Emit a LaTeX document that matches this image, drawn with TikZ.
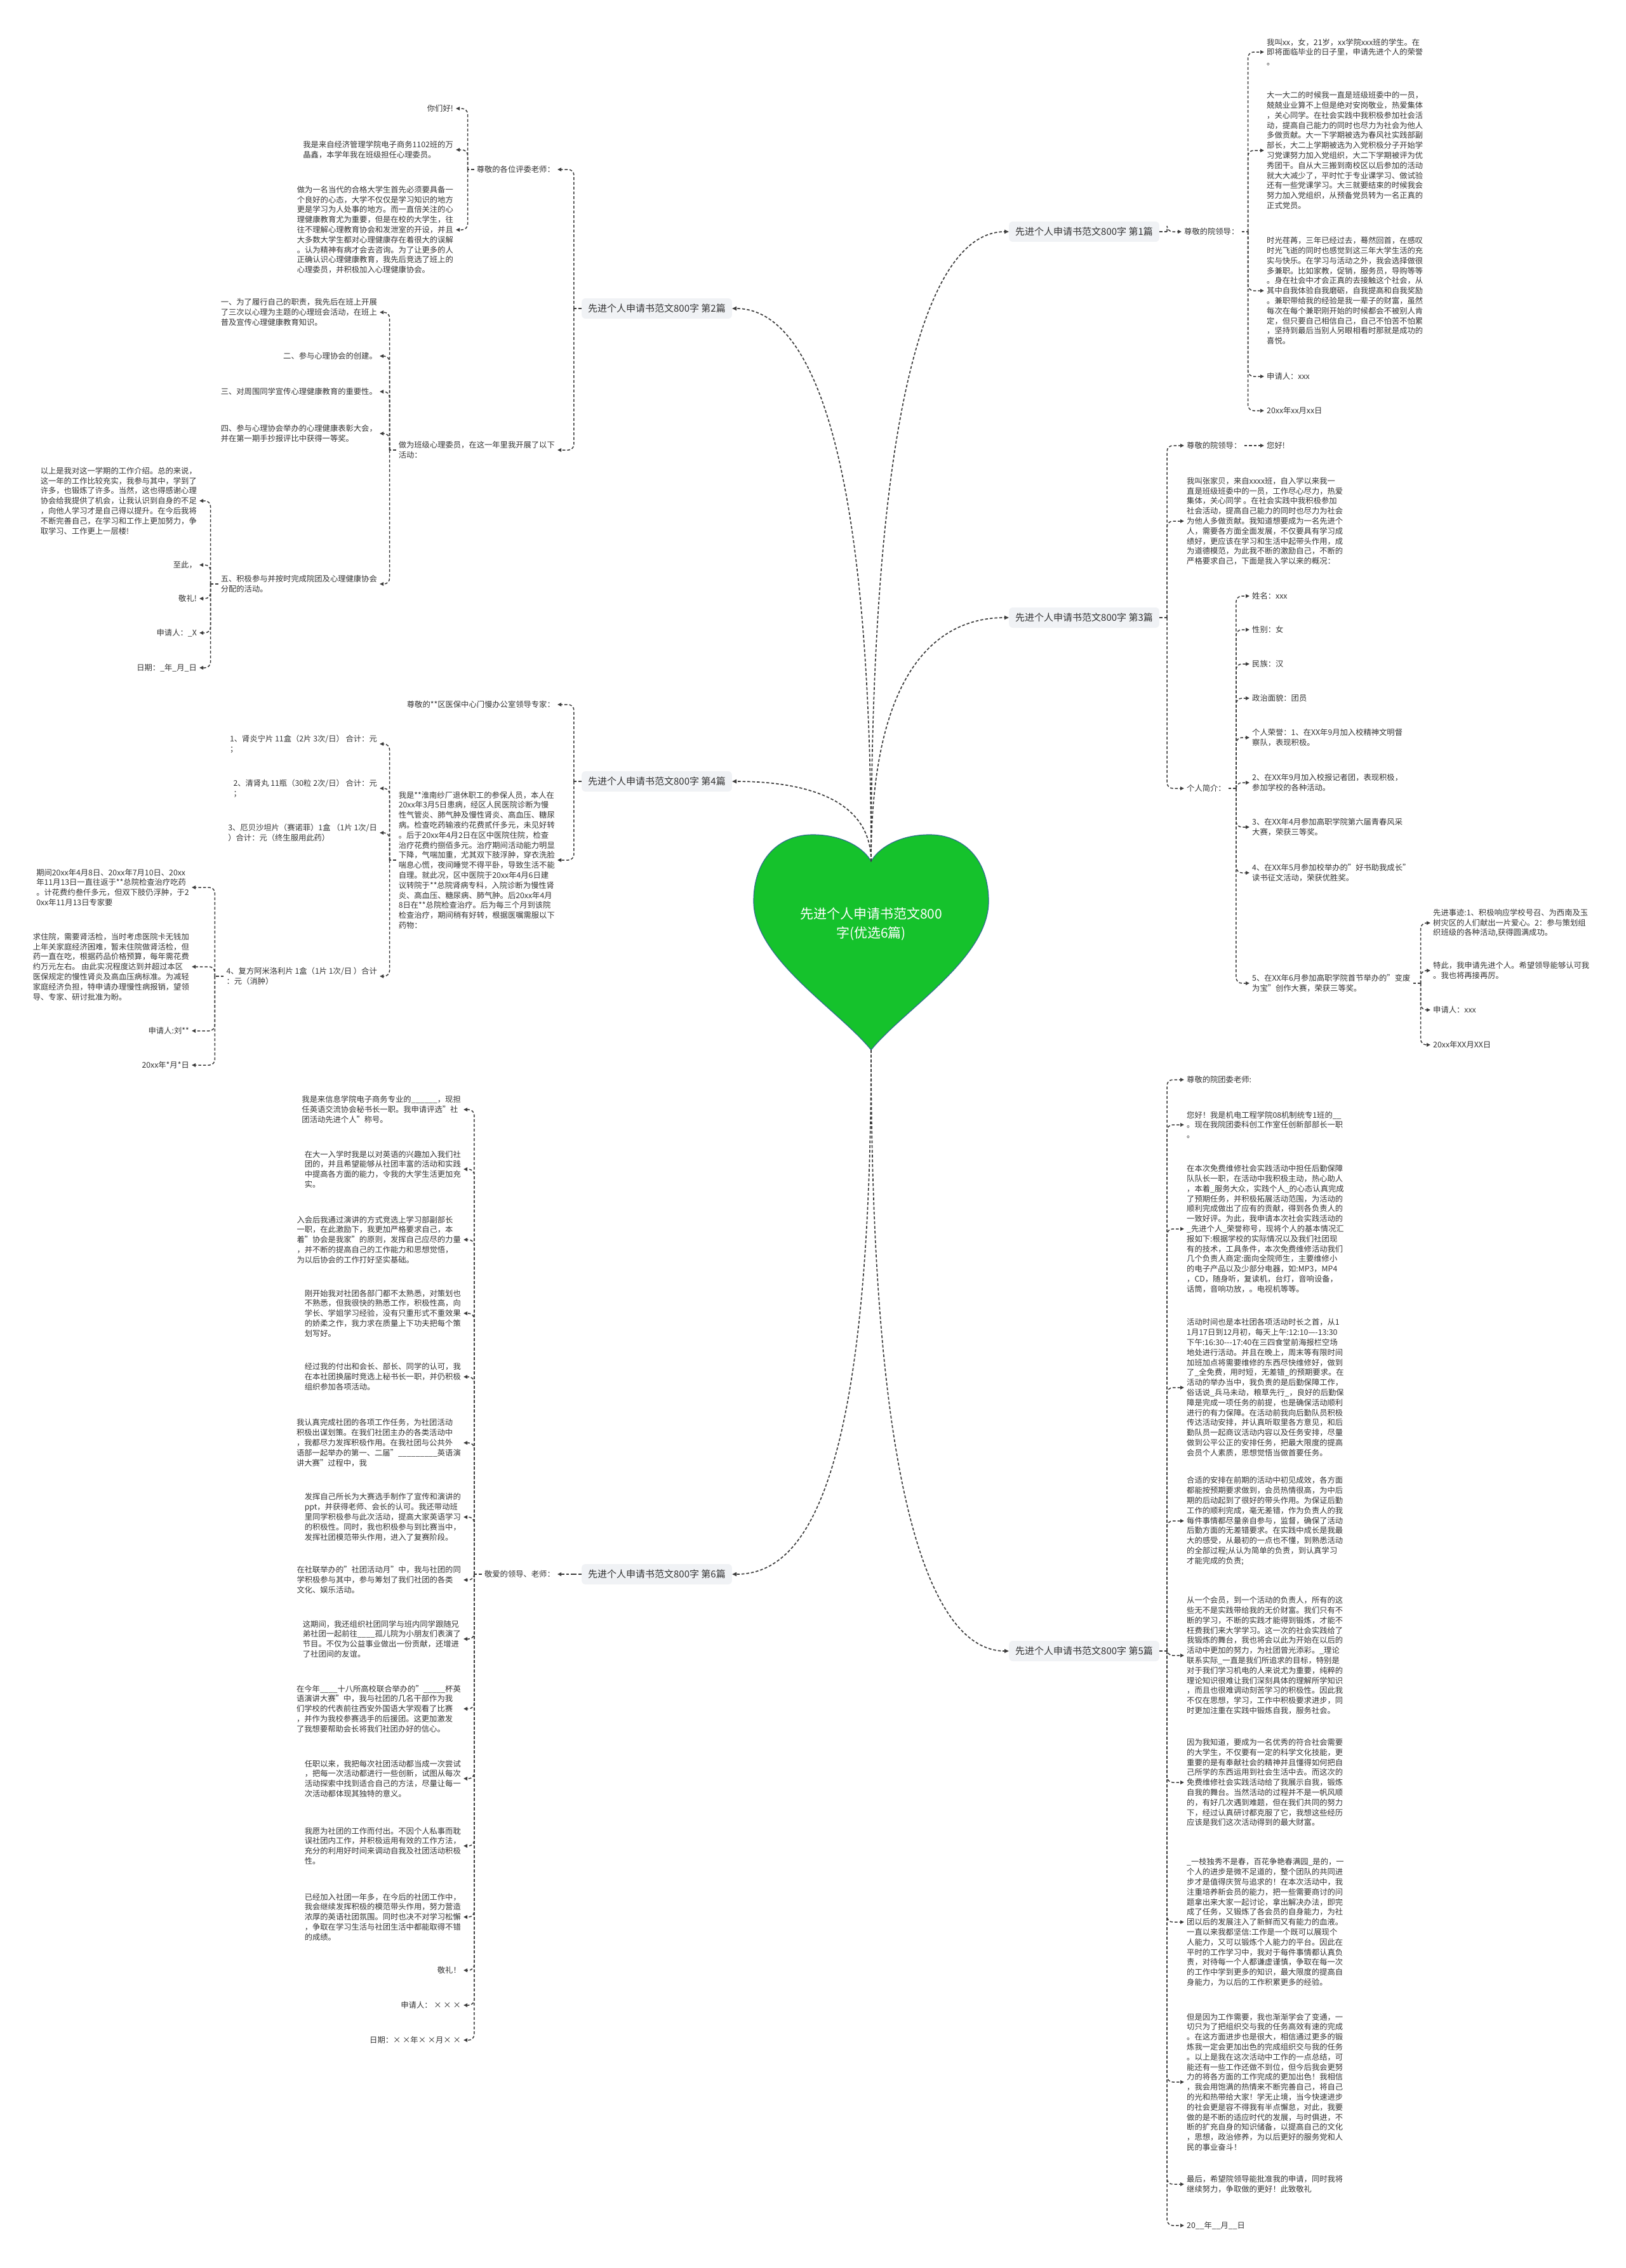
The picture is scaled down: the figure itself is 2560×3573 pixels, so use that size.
\documentclass[tikz,border=0pt]{standalone}
\usepackage{fontspec}
\setmainfont{Noto Sans CJK SC}
\usetikzlibrary{calc,arrows.meta}
\definecolor{ink}{HTML}{333333}
\definecolor{lnk}{HTML}{3C3C3C}
\definecolor{heartg}{HTML}{15C22C}
\definecolor{heartb}{HTML}{2E6E8E}
\definecolor{boxg}{HTML}{F0F2F5}
\begin{document}
\begin{tikzpicture}[x=1pt,y=-1pt,
  txt/.style={font=\fontsize{12.3pt}{15.8pt}\selectfont, text=ink, align=left, inner xsep=4pt, inner ysep=1pt},
  rt/.style={txt, anchor=west},
  lt/.style={txt, anchor=east},
  branch/.style={font=\fontsize{15pt}{18pt}\selectfont, text=ink, fill=boxg, rounded corners=6pt, inner xsep=10pt, inner ysep=9pt},
  lk/.style={draw=lnk, line width=1.5pt, dash pattern=on 4.5pt off 3pt},
  edge/.style={lk, rounded corners=9pt, -{Triangle[length=6pt,width=5.5pt]}},
  redge/.style={lk, line width=1.7pt, -{Triangle[length=7pt,width=6pt]}}]
\path[use as bounding box, fill=white] (0,0) rectangle (2560,3573);

% ---------- heart ----------
\path[fill=heartg, draw=heartb, line width=1.2pt] (1372,1654) .. controls (1320,1590) and (1187,1510) .. (1187,1420) .. controls (1187,1352) and (1228,1315) .. (1280,1315) .. controls (1330,1315) and (1362,1338) .. (1372,1357) .. controls (1382,1338) and (1414,1315) .. (1464,1315) .. controls (1516,1315) and (1557,1352) .. (1557,1420) .. controls (1557,1510) and (1424,1590) .. (1372,1654) -- cycle;
\node[font=\fontsize{21pt}{30pt}\selectfont, text=white, align=center] (title) at (1372,1456) {先进个人申请书范文800\\字(优选6篇)};
\coordinate (hn) at (1372,1357);
\coordinate (ht) at (1372,1654);

% ---------- branches ----------
\node[branch, anchor=west] (B1) at (1589,365) {先进个人申请书范文800字 第1篇};
\node[branch, anchor=west] (B3) at (1589,973) {先进个人申请书范文800字 第3篇};
\node[branch, anchor=west] (B5) at (1589,2601) {先进个人申请书范文800字 第5篇};
\node[branch, anchor=east] (B2) at (1153,486) {先进个人申请书范文800字 第2篇};
\node[branch, anchor=east] (B4) at (1153,1231) {先进个人申请书范文800字 第4篇};
\node[branch, anchor=east] (B6) at (1153,2480) {先进个人申请书范文800字 第6篇};

\foreach \b in {B1,B3} \draw[redge] (hn) .. controls ($(hn)!0.8!(hn|-\b.west)$) and ($(\b.west)!0.5!(hn|-\b.west)$) .. (\b.west);
\foreach \b in {B2,B4} \draw[redge] (hn) .. controls ($(hn)!0.8!(hn|-\b.east)$) and ($(\b.east)!0.5!(hn|-\b.east)$) .. (\b.east);
\draw[redge] (ht) .. controls ($(ht)!0.8!(ht|-B5.west)$) and ($(B5.west)!0.5!(ht|-B5.west)$) .. (B5.west);
\draw[redge] (ht) .. controls ($(ht)!0.85!(ht|-B6.east)$) and ($(B6.east)!0.5!(ht|-B6.east)$) .. (B6.east);

% ---------- branch 1 ----------
\coordinate (B1t) at ($(B1.east)+(12,0)$);
\node[rt] (n1a) at (1861,365) {尊敬的院领导：};
\coordinate (n1at) at ($(n1a.east)+(10,0)$);
\node[rt] (n1b) at (1991,82) {我叫xx，女，21岁，xx学院xxx班的学生。在\\即将面临毕业的日子里，申请先进个人的荣誉\\。};
\node[rt] (n1c) at (1991,237) {大一大二的时候我一直是班级班委中的一员，\\兢兢业业算不上但是绝对安岗敬业，热爱集体\\，关心同学。在社会实践中我积极参加社会活\\动，提高自己能力的同时也尽力为社会为他人\\多做贡献。大一下学期被选为春风社实践部副\\部长，大二上学期被选为入党积极分子开始学\\习党课努力加入党组织，大二下学期被评为优\\秀团干。自从大三搬到南校区以后参加的活动\\就大大减少了，平时忙于专业课学习、做试验\\还有一些党课学习。大三就要结束的时候我会\\努力加入党组织，从预备党员转为一名正真的\\正式党员。};
\node[rt] (n1d) at (1991,458) {时光荏苒，三年已经过去，蓦然回首，在感叹\\时光飞逝的同时也感觉到这三年大学生活的充\\实与快乐。在学习与活动之外，我会选择做很\\多兼职。比如家教，促销，服务员，导购等等\\。身在社会中才会正真的去接触这个社会，从\\其中自我体验自我磨砺，自我提高和自我奖励\\。兼职带给我的经验是我一辈子的财富，虽然\\每次在每个兼职刚开始的时候都会不被别人肯\\定，但只要自己相信自己，自己不怕苦不怕累\\，坚持到最后当别人另眼相看时那就是成功的\\喜悦。};
\node[rt] (n1e) at (1991,593) {申请人：xxx};
\node[rt] (n1f) at (1991,647) {20xx年xx月xx日};
\draw[lk] (B1.east) -- (B1t);
\draw[edge] (B1t) |- (n1a.west);
\draw[lk] (n1a.east) -- (n1at);
\foreach \c in {n1b,n1c,n1d,n1e,n1f} \draw[edge] (n1at) |- (\c.west);

% ---------- branch 3 ----------
\coordinate (B3t) at ($(B3.east)+(12,0)$);
\node[rt] (n3a) at (1865,702) {尊敬的院领导：};
\node[rt] (n3a1) at (1991,702) {您好!};
\node[rt] (n3b) at (1865,821) {我叫张家贝，来自xxxx班，自入学以来我一\\直是班级班委中的一员，工作尽心尽力，热爱\\集体，关心同学 。在社会实践中我积极参加\\社会活动，提高自己能力的同时也尽力为社会\\为他人多做贡献。我知道想要成为一名先进个\\人，需要各方面全面发展，不仅要具有学习成\\绩好，更应该在学习和生活中起带头作用，成\\为道德模范，为此我不断的激励自己，不断的\\严格要求自己，下面是我入学以来的概况：};
\node[rt] (n3c) at (1865,1242) {个人简介：};
\coordinate (n3ct) at ($(n3c.east)+(12,0)$);
\node[rt] (n3c1) at (1968,939) {姓名：xxx};
\node[rt] (n3c2) at (1968,992) {性别：女};
\node[rt] (n3c3) at (1968,1046) {民族：汉};
\node[rt] (n3c4) at (1968,1100) {政治面貌：团员};
\node[rt] (n3c5) at (1968,1162) {个人荣誉：1、在XX年9月加入校精神文明督\\察队，表现积极。};
\node[rt] (n3c6) at (1968,1233) {2、在XX年9月加入校报记者团，表现积极，\\参加学校的各种活动。};
\node[rt] (n3c7) at (1968,1303) {3、在XX年4月参加高职学院第六届青春风采\\大赛，荣获三等奖。};
\node[rt] (n3c8) at (1968,1375) {4、在XX年5月参加校举办的"好书助我成长"\\读书征文活动，荣获优胜奖。};
\node[rt] (n3c9) at (1968,1549) {5、在XX年6月参加高职学院首节举办的"变废\\为宝"创作大赛，荣获三等奖。};
\coordinate (n3c9t) at ($(n3c9.east)+(12,0)$);
\node[rt] (n3c9a) at (2253,1454) {先进事迹:1、积极响应学校号召、为西南及玉\\树灾区的人们献出一片爱心。2：参与策划组\\织班级的各种活动,获得圆满成功。};
\node[rt] (n3c9b) at (2253,1529) {特此，我申请先进个人。希望领导能够认可我\\。我也将再接再厉。};
\node[rt] (n3c9c) at (2253,1591) {申请人：xxx};
\node[rt] (n3c9d) at (2253,1646) {20xx年XX月XX日};
\draw[lk] (B3.east) -- (B3t);
\foreach \c in {n3a,n3b,n3c} \draw[edge] (B3t) |- (\c.west);
\draw[edge] (n3a.east) -- (n3a1.west);
\draw[lk] (n3c.east) -- (n3ct);
\foreach \c in {n3c1,n3c2,n3c3,n3c4,n3c5,n3c6,n3c7,n3c8,n3c9} \draw[edge] (n3ct) |- (\c.west);
\draw[lk] (n3c9.east) -- (n3c9t);
\foreach \c in {n3c9a,n3c9b,n3c9c,n3c9d} \draw[edge] (n3c9t) |- (\c.west);

% ---------- branch 5 ----------
\coordinate (B5t) at ($(B5.east)+(12,0)$);
\node[rt] (n5a) at (1865,1701) {尊敬的院团委老师:};
\node[rt] (n5b) at (1865,1772) {您好！我是机电工程学院08机制统专1班的\_\_\\。现在我院团委科创工作室任创新部部长一职\\。};
\node[rt] (n5c) at (1865,1936) {在本次免费维修社会实践活动中担任后勤保障\\队队长一职，在活动中我积极主动，热心助人\\，本着\_服务大众，实践个人\_的心态认真完成\\了预期任务，并积极拓展活动范围，为活动的\\顺利完成做出了应有的贡献，得到各负责人的\\一致好评。为此，我申请本次社会实践活动的\\\_先进个人\_荣誉称号，现将个人的基本情况汇\\报如下:根据学校的实际情况以及我们社团现\\有的技术，工具条件，本次免费维修活动我们\\几个负责人商定:面向全院师生，主要维修小\\的电子产品以及少部分电器，如:MP3，MP4\\，CD，随身听，复读机，台灯，音响设备，\\话筒，音响功放，。电视机等等。};
\node[rt] (n5d) at (1865,2186) {活动时间也是本社团各项活动时长之首，从1\\1月17日到12月初，每天上午:12:10—-13:30\\下午:16:30-{}-{}-17:40在三四食堂前海报栏空场\\地处进行活动。并且在晚上，周末等有限时间\\加班加点将需要维修的东西尽快维修好，做到\\了\_全免费，用时短，无差错\_的预期要求。在\\活动的举办当中，我负责的是后勤保障工作，\\俗话说\_兵马未动，粮草先行\_，良好的后勤保\\障是完成一项任务的前提，也是确保活动顺利\\进行的有力保障。在活动前我向后勤队员积极\\传达活动安排，并认真听取里各方意见，和后\\勤队员一起商议活动内容以及任务安排，尽量\\做到公平公正的安排任务，把最大限度的提高\\会员个人素质，思想觉悟当做首要任务。};
\node[rt] (n5e) at (1865,2396) {合适的安排在前期的活动中初见成效，各方面\\都能按预期要求做到，会员热情很高，为中后\\期的后动起到了很好的带头作用。为保证后勤\\工作的顺利完成，毫无差错，作为负责人的我\\每件事情都尽量亲自参与，监督，确保了活动\\后勤方面的无差错要求。在实践中成长是我最\\大的感受，从最初的一点也不懂，到熟悉活动\\的全部过程;从认为简单的负责，到认真学习\\才能完成的负责;};
\node[rt] (n5f) at (1865,2608) {从一个会员，到一个活动的负责人，所有的这\\些无不是实践带给我的无价财富。我们只有不\\断的学习，不断的实践才能得到锻炼，才能不\\枉费我们来大学学习。这一次的社会实践给了\\我锻炼的舞台，我也将会以此为开始在以后的\\活动中更加的努力，为社团曾光添彩。\_理论\\联系实际\_一直是我们所追求的目标，特别是\\对于我们学习机电的人来说尤为重要，纯粹的\\理论知识很难让我们深刻具体的理解所学知识\\，而且也很难调动刻苦学习的积极性。因此我\\不仅在思想，学习，工作中积极要求进步，同\\时更加注重在实践中锻炼自我，服务社会。};
\node[rt] (n5g) at (1865,2808) {因为我知道，要成为一名优秀的符合社会需要\\的大学生，不仅要有一定的科学文化技能，更\\重要的是有奉献社会的精神并且懂得如何把自\\己所学的东西运用到社会生活中去。而这次的\\免费维修社会实践活动给了我展示自我，锻炼\\自我的舞台。当然活动的过程并不是一帆风顺\\的，有好几次遇到难题，但在我们共同的努力\\下，经过认真研讨都克服了它，我想这些经历\\应该是我们这次活动得到的最大财富。};
\node[rt] (n5h) at (1865,3028) {\_一枝独秀不是春，百花争艳春满园\_是的，一\\个人的进步是微不足道的，整个团队的共同进\\步才是值得庆贺与追求的！在本次活动中，我\\注重培养新会员的能力，把一些需要商讨的问\\题拿出来大家一起讨论，拿出解决办法，即完\\成了任务，又锻炼了各会员的自身能力，为社\\团以后的发展注入了新鲜而又有能力的血液。\\一直以来我都坚信:工作是一个既可以展现个\\人能力，又可以锻炼个人能力的平台。因此在\\平时的工作学习中，我对于每件事情都认真负\\责，对待每一个人都谦虚谨慎，争取在每一次\\的工作中学到更多的知识，最大限度的提高自\\身能力，为以后的工作积累更多的经验。};
\node[rt] (n5i) at (1865,3280) {但是因为工作需要，我也渐渐学会了变通，一\\切只为了把组织交与我的任务高效有速的完成\\。在这方面进步也是很大，相信通过更多的锻\\炼我一定会更加出色的完成组织交与我的任务\\。以上是我在这次活动中工作的一点总结，可\\能还有一些工作还做不到位，但今后我会更努\\力的将各方面的工作完成的更加出色！我相信\\，我会用饱满的热情来不断完善自己，将自己\\的光和热带给大家！学无止境，当今快速进步\\的社会更是容不得我有半点懈怠，对此，我要\\做的是不断的适应时代的发展，与时俱进，不\\断的扩充自身的知识储备，以提高自己的文化\\，思想，政治修养，为以后更好的服务党和人\\民的事业奋斗！};
\node[rt] (n5j) at (1865,3441) {最后，希望院领导能批准我的申请，同时我将\\继续努力，争取做的更好！此致敬礼};
\node[rt] (n5k) at (1865,3506) {20\_\_年\_\_月\_\_日};
\draw[lk] (B5.east) -- (B5t);
\foreach \c in {n5a,n5b,n5c,n5d,n5e,n5f,n5g,n5h,n5i,n5j,n5k} \draw[edge] (B5t) |- (\c.west);

% ---------- branch 2 ----------
\coordinate (B2t) at ($(B2.west)+(-12,0)$);
\node[lt] (n2a) at (878,267) {尊敬的各位评委老师：};
\coordinate (n2at) at ($(n2a.west)+(-10,0)$);
\node[lt] (n2a1) at (718,171) {你们好!};
\node[lt] (n2a2) at (718,236) {我是来自经济管理学院电子商务1102班的万\\晶鑫，本学年我在班级担任心理委员。};
\node[lt] (n2a3) at (718,362) {做为一名当代的合格大学生首先必须要具备一\\个良好的心态，大学不仅仅是学习知识的地方\\更是学习为人处事的地方。而一直倍关注的心\\理健康教育尤为重要，但是在校的大学生，往\\往不理解心理教育协会和发泄室的开设，并且\\大多数大学生都对心理健康存在着很大的误解\\。认为精神有病才会去咨询。为了让更多的人\\正确认识心理健康教育，我先后竞选了班上的\\心理委员，并积极加入心理健康协会。};
\node[lt] (n2b) at (878,709) {做为班级心理委员，在这一年里我开展了以下\\活动：};
\coordinate (n2bt) at ($(n2b.west)+(-10,0)$);
\node[lt] (n2b1) at (598,492) {一、为了履行自己的职责，我先后在班上开展\\了三次以心理为主题的心理班会活动，在班上\\普及宣传心理健康教育知识。};
\node[lt] (n2b2) at (598,561) {二、参与心理协会的创建。};
\node[lt] (n2b3) at (598,617) {三、对周围同学宣传心理健康教育的重要性。};
\node[lt] (n2b4) at (598,683) {四、参与心理协会举办的心理健康表彰大会，\\并在第一期手抄报评比中获得一等奖。};
\node[lt] (n2b5) at (598,920) {五、积极参与并按时完成院团及心理健康协会\\分配的活动。};
\coordinate (n2b5t) at ($(n2b5.west)+(-12,0)$);
\node[lt] (n2b5a) at (314,789) {以上是我对这一学期的工作介绍。总的来说，\\这一年的工作比较充实，我参与其中，学到了\\许多，也锻炼了许多。当然，这也得感谢心理\\协会给我提供了机会，让我认识到自身的不足\\，向他人学习才是自己得以提升。在今后我将\\不断完善自己，在学习和工作上更加努力，争\\取学习、工作更上一层楼!};
\node[lt] (n2b5b) at (314,890) {至此，};
\node[lt] (n2b5c) at (314,943) {敬礼!};
\node[lt] (n2b5d) at (314,997) {申请人：\_X};
\node[lt] (n2b5e) at (314,1052) {日期：\_年\_月\_日};
\draw[lk] (B2.west) -- (B2t);
\foreach \c in {n2a,n2b} \draw[edge] (B2t) |- (\c.east);
\draw[lk] (n2a.west) -- (n2at);
\foreach \c in {n2a1,n2a2,n2a3} \draw[edge] (n2at) |- (\c.east);
\draw[lk] (n2b.west) -- (n2bt);
\foreach \c in {n2b1,n2b2,n2b3,n2b4,n2b5} \draw[edge] (n2bt) |- (\c.east);
\draw[lk] (n2b5.west) -- (n2b5t);
\foreach \c in {n2b5a,n2b5b,n2b5c,n2b5d,n2b5e} \draw[edge] (n2b5t) |- (\c.east);

% ---------- branch 4 ----------
\coordinate (B4t) at ($(B4.west)+(-12,0)$);
\node[lt] (n4a) at (878,1110) {尊敬的**区医保中心门慢办公室领导专家：};
\node[lt] (n4b) at (878,1355) {我是**淮南纱厂退休职工的参保人员，本人在\\20xx年3月5日患病，经区人民医院诊断为慢\\性气管炎、肺气肿及慢性肾炎、高血压、糖尿\\病。检查吃药输液约花费贰仟多元，未见好转\\。后于20xx年4月2日在区中医院住院，检查\\治疗花费约捌佰多元。治疗期间活动能力明显\\下降，气喘加重，尤其双下肢浮肿，穿衣洗脸\\喘息心慌，夜间睡觉不得平卧，导致生活不能\\自理。就此况，区中医院于20xx年4月6日建\\议转院于**总院肾病专科，入院诊断为慢性肾\\炎、高血压、糖尿病、肺气肿。后20xx年4月\\8日在**总院检查治疗。后为每三个月到该院\\检查治疗，期间稍有好转，根据医嘱需服以下\\药物：};
\coordinate (n4bt) at ($(n4b.west)+(-10,0)$);
\node[lt] (n4b1) at (598,1172) {1、肾炎宁片 11盒（2片 3次/日） 合计：元\\；};
\node[lt] (n4b2) at (598,1242) {2、清肾丸 11瓶（30粒 2次/日） 合计：元\\；};
\node[lt] (n4b3) at (598,1312) {3、厄贝沙坦片（赛诺菲）1盒 （1片 1次/日\\）合计：元（终生服用此药）};
\node[lt] (n4b4) at (598,1538) {4、复方阿米洛利片 1盒（1片 1次/日 ）合计\\：元（消肿）};
\coordinate (n4b4t) at ($(n4b4.west)+(-14,0)$);
\node[lt] (n4b4a) at (302,1398) {期间20xx年4月8日、20xx年7月10日、20xx\\年11月13日一直往返于**总院检查治疗吃药\\。计花费约叁仟多元，但双下肢仍浮肿，于2\\0xx年11月13日专家要};
\node[lt] (n4b4b) at (302,1523) {求住院，需要肾活检，当时考虑医院卡无钱加\\上年关家庭经济困难，暂未住院做肾活检，但\\药一直在吃，根据药品价格预算，每年需花费\\约万元左右。 由此实况程度达到并超过本区\\医保规定的慢性肾炎及高血压病标准。为减轻\\家庭经济负担，特申请办理慢性病报销，望领\\导、专家、研讨批准为盼。};
\node[lt] (n4b4c) at (302,1624) {申请人:刘**};
\node[lt] (n4b4d) at (302,1678) {20xx年*月*日};
\draw[lk] (B4.west) -- (B4t);
\foreach \c in {n4a,n4b} \draw[edge] (B4t) |- (\c.east);
\draw[lk] (n4b.west) -- (n4bt);
\foreach \c in {n4b1,n4b2,n4b3,n4b4} \draw[edge] (n4bt) |- (\c.east);
\draw[lk] (n4b4.west) -- (n4b4t);
\foreach \c in {n4b4a,n4b4b,n4b4c,n4b4d} \draw[edge] (n4b4t) |- (\c.east);

% ---------- branch 6 ----------
\coordinate (B6t) at ($(B6.west)+(-12,0)$);
\node[lt] (n6a) at (878,2480) {敬爱的领导、老师：};
\coordinate (n6at) at ($(n6a.west)+(-12,0)$);
\node[lt] (n6a1) at (730,1748) {我是来信息学院电子商务专业的\_\_\_\_\_\_，现担\\任英语交流协会秘书长一职。我申请评选"社\\团活动先进个人"称号。};
\node[lt] (n6a2) at (730,1842) {在大一入学时我是以对英语的兴趣加入我们社\\团的，并且希望能够从社团丰富的活动和实践\\中提高各方面的能力，令我的大学生活更加充\\实。};
\node[lt] (n6a3) at (730,1953) {入会后我通过演讲的方式竞选上学习部副部长\\一职，在此激励下，我更加严格要求自己，本\\着"协会是我家"的原则，发挥自己应尽的力量\\，并不断的提高自己的工作能力和思想觉悟，\\为以后协会的工作打好坚实基础。};
\node[lt] (n6a4) at (730,2069) {刚开始我对社团各部门都不太熟悉，对策划也\\不熟悉，但我很快的熟悉工作，积极性高，向\\学长、学姐学习经验，没有只重形式不重效果\\的娇柔之作，我力求在质量上下功夫把每个策\\划写好。};
\node[lt] (n6a5) at (730,2169) {经过我的付出和会长、部长、同学的认可，我\\在本社团换届时竞选上秘书长一职，并仍积极\\组织参加各项活动。};
\node[lt] (n6a6) at (730,2273) {我认真完成社团的各项工作任务，为社团活动\\积极出谋划策。在我们社团主办的各类活动中\\，我都尽力发挥积极作用。在我社团与公共外\\语部一起举办的第一、二届"\_\_\_\_\_\_\_\_\_英语演\\讲大赛"过程中，我};
\node[lt] (n6a7) at (730,2390) {发挥自己所长为大赛选手制作了宣传和演讲的\\ppt，并获得老师、会长的认可。我还带动班\\里同学积极参与此次活动，提高大家英语学习\\的积极性。同时，我也积极参与到比赛当中，\\发挥社团模范带头作用，进入了复赛阶段。};
\node[lt] (n6a8) at (730,2489) {在社联举办的"社团活动月"中，我与社团的同\\学积极参与其中，参与筹划了我们社团的各类\\文化、娱乐活动。};
\node[lt] (n6a9) at (730,2582) {这期间，我还组织社团同学与班内同学跟随兄\\弟社团一起前往\_\_\_\_孤儿院为小朋友们表演了\\节目。不仅为公益事业做出一份贡献，还增进\\了社团间的友谊。};
\node[lt] (n6a10) at (730,2692) {在今年\_\_\_\_十八所高校联合举办的"\_\_\_\_\_杯英\\语演讲大赛"中，我与社团的几名干部作为我\\们学校的代表前往西安外国语大学观看了比赛\\，并作为我校参赛选手的后援团。这更加激发\\了我想要帮助会长将我们社团办好的信心。};
\node[lt] (n6a11) at (730,2802) {任职以来，我把每次社团活动都当成一次尝试\\，把每一次活动都进行一些创新，试图从每次\\活动探索中找到适合自己的方法，尽量让每一\\次活动都体现其独特的意义。};
\node[lt] (n6a12) at (730,2908) {我愿为社团的工作而付出。不因个人私事而耽\\误社团内工作，并积极运用有效的工作方法，\\充分的利用好时间来调动自我及社团活动积极\\性。};
\node[lt] (n6a13) at (730,3020) {已经加入社团一年多，在今后的社团工作中，\\我会继续发挥积极的模范带头作用，努力营造\\浓厚的英语社团氛围。同时也决不对学习松懈\\，争取在学习生活与社团生活中都能取得不错\\的成绩。};
\node[lt] (n6a14) at (730,3104) {敬礼！};
\node[lt] (n6a15) at (730,3159) {申请人： × × ×};
\node[lt] (n6a16) at (730,3214) {日期：× ×年× ×月× ×};
\draw[lk] (B6.west) -- (B6t);
\draw[edge] (B6t) -- (n6a.east);
\draw[lk] (n6a.west) -- (n6at);
\foreach \c in {n6a1,n6a2,n6a3,n6a4,n6a5,n6a6,n6a7,n6a8,n6a9,n6a10,n6a11,n6a12,n6a13,n6a14,n6a15,n6a16} \draw[edge] (n6at) |- (\c.east);
\end{tikzpicture}
\end{document}
